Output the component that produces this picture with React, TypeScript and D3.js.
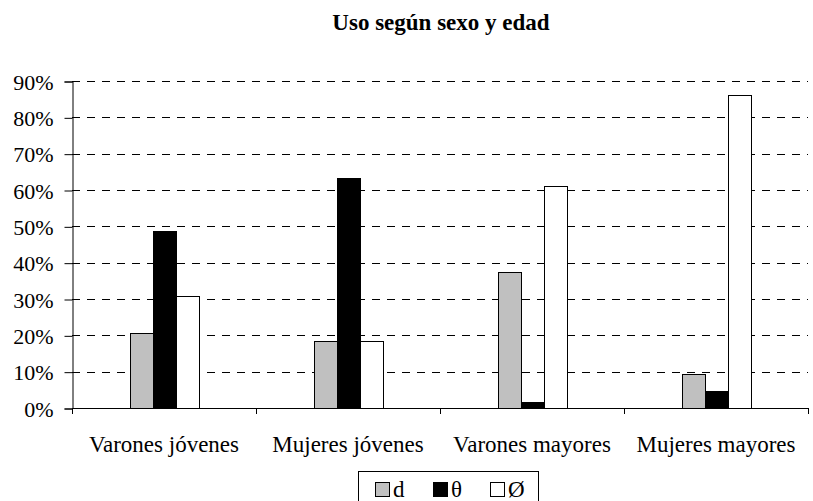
import React, { useEffect, useRef } from 'react';
import * as d3 from 'd3';

const categories = ['Varones jóvenes', 'Mujeres jóvenes', 'Varones mayores', 'Mujeres mayores'];
const seriesNames = ['d', 'θ', 'Ø'];
const seriesColors = ['#c0c0c0', '#000000', '#ffffff'];
const dValues = [0.207, 0.184, 0.375, 0.093];
const thetaValues = [0.488, 0.633, 0.016, 0.047];
const oslashValues = [0.308, 0.184, 0.612, 0.862];
const yTicks = [0, 0.1, 0.2, 0.3, 0.4, 0.5, 0.6, 0.7, 0.8, 0.9];

export default function App() {
  const svgRef = useRef<SVGSVGElement>(null);

  useEffect(() => {
    if (!svgRef.current) return;
    const svg = d3.select(svgRef.current);
    svg.selectAll('*').remove();

    const margin = { top: 81, right: 5, bottom: 93, left: 72 };
    const width = 813;
    const height = 501;
    const font = '"Liberation Serif", "Times New Roman", serif';

    const x = d3.scaleBand()
      .domain(categories)
      .range([margin.left, width - margin.right]);

    const inner = d3.scaleBand()
      .domain(seriesNames)
      .range([0, x.bandwidth()])
      .paddingOuter(2.5);

    const y = d3.scaleLinear()
      .domain([0, 0.9])
      .range([height - margin.bottom, margin.top]);

    // title
    svg.append('text')
      .attr('x', 441)
      .attr('y', 30)
      .attr('text-anchor', 'middle')
      .style('font-family', font)
      .style('font-weight', 'bold')
      .style('font-size', '23px')
      .text('Uso según sexo y edad');

    // gridlines
    svg.append('g')
      .selectAll('line')
      .data(yTicks.filter(d => d > 0))
      .join('line')
      .attr('x1', margin.left)
      .attr('x2', width - margin.right)
      .attr('y1', d => Math.round(y(d)) + 0.5)
      .attr('y2', d => Math.round(y(d)) + 0.5)
      .attr('stroke', '#000')
      .attr('stroke-width', 1)
      .attr('stroke-dasharray', '8,7');

    const data = [dValues, thetaValues, oslashValues];

    // bars
    seriesNames.forEach((s, si) => {
      svg.append('g')
        .selectAll('rect')
        .data(categories)
        .join('rect')
        .attr('x', c => Math.round((x(c) || 0) + (inner(s) || 0)) + 0.5)
        .attr('y', (c, i) => Math.round(y(data[si][i])) + 0.5)
        .attr('width', Math.round(inner.bandwidth()))
        .attr('height', (c, i) => Math.round(y(0)) - Math.round(y(data[si][i])))
        .attr('fill', seriesColors[si])
        .attr('stroke', '#000')
        .attr('stroke-width', 1);
    });

    // y axis
    const yAxis = svg.append('g')
      .attr('transform', `translate(${margin.left + 0.5},0.5)`)
      .call(d3.axisLeft(y).tickValues(yTicks).tickSize(8).tickFormat(d => `${Math.round(+d * 100)}%`));
    yAxis.select('.domain').attr('stroke', '#000');
    yAxis.selectAll('text')
      .attr('x', -19)
      .attr('dy', '0.35em')
      .style('font-family', font)
      .style('font-size', '22px')
      .style('fill', '#000');

    // x axis
    svg.append('line')
      .attr('x1', margin.left)
      .attr('x2', width - margin.right)
      .attr('y1', Math.round(y(0)) + 0.5)
      .attr('y2', Math.round(y(0)) + 0.5)
      .attr('stroke', '#000');

    const boundaries = categories.map(c => x(c) || 0).concat([width - margin.right]);
    svg.append('g')
      .selectAll('line')
      .data(boundaries)
      .join('line')
      .attr('x1', d => Math.round(d) + 0.5)
      .attr('x2', d => Math.round(d) + 0.5)
      .attr('y1', Math.round(y(0)))
      .attr('y2', Math.round(y(0)) + 6)
      .attr('stroke', '#000');

    svg.append('g')
      .selectAll('text')
      .data(categories)
      .join('text')
      .attr('x', c => (x(c) || 0) + x.bandwidth() / 2)
      .attr('y', 452)
      .attr('text-anchor', 'middle')
      .style('font-family', font)
      .style('font-size', '23px')
      .text(c => c);

    // legend
    const legend = svg.append('g');
    legend.append('rect')
      .attr('x', 358.5)
      .attr('y', 471.5)
      .attr('width', 180)
      .attr('height', 40)
      .attr('fill', '#fff')
      .attr('stroke', '#000');
    seriesNames.forEach((s, i) => {
      const lx = Math.round(375 + i * 57.5);
      legend.append('rect')
        .attr('x', lx + 0.5)
        .attr('y', 482.5)
        .attr('width', 14)
        .attr('height', 14)
        .attr('fill', seriesColors[i])
        .attr('stroke', '#000');
      legend.append('text')
        .attr('x', lx + 18)
        .attr('y', 497)
        .style('font-family', font)
        .style('font-size', '23px')
        .text(s);
    });
  }, []);

  return (
    <svg ref={svgRef} width={813} height={501} style={{ position: 'absolute', left: 0, top: 0, background: '#fff' }} />
  );
}
